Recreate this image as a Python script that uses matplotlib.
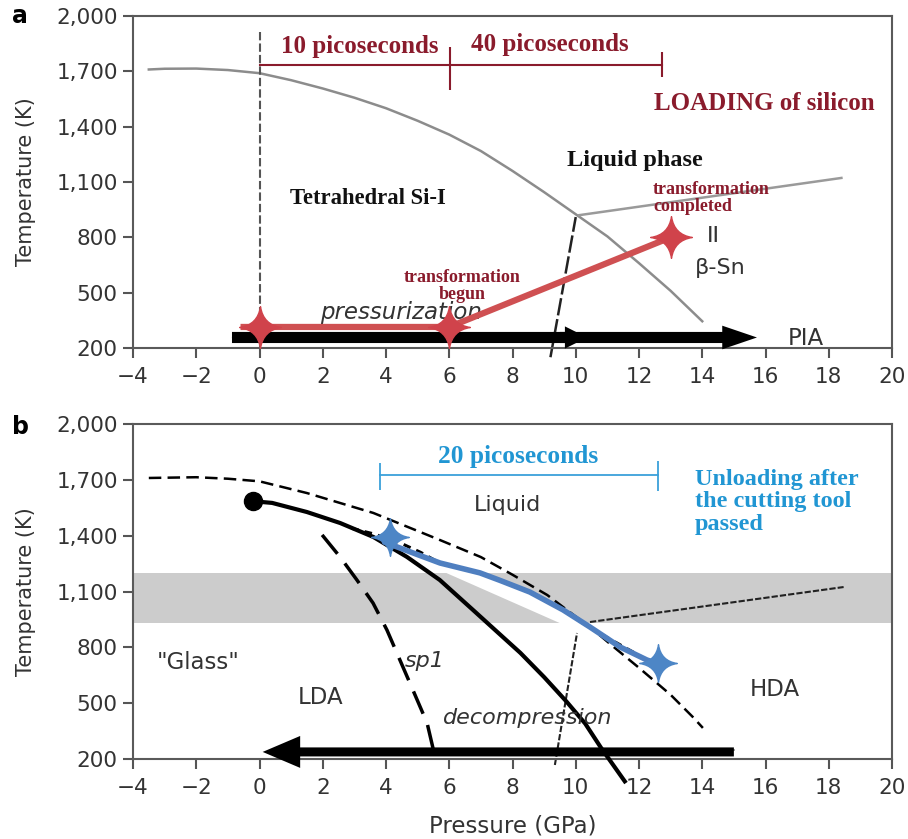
import numpy as np
import matplotlib.pyplot as plt
from matplotlib.path import Path

plt.rcParams['font.family'] = ['DejaVu Sans']

# melting line of crystalline Si (pressure in GPa, temperature in K)
melt_p = [-3.5, -3.0, -2.0, -1.0, 0.0, 1.0, 2.0, 3.0, 4.0, 5.0, 6.0, 7.0, 8.0, 9.0, 10.0, 11.0, 12.0, 13.0, 14.0]
melt_t = [1710, 1714, 1715, 1707, 1690, 1652, 1607, 1557, 1500, 1432, 1357, 1268, 1160, 1045, 925, 805, 660, 510, 345]
# same line as drawn in the lower panel
melt_b_p = [-3.5, -2.0, -1.0, 0.0, 1.5, 3.6, 5.7, 7.0, 8.0, 9.1, 10.0, 10.45, 11.2, 12.0, 13.0, 13.7, 14.02]
melt_b_t = [1710, 1714, 1706, 1692, 1629, 1522, 1377, 1285, 1190, 1081, 965, 909, 802, 690, 545, 426, 367]

# Si-I / beta-Sn boundary and the line from the triple point
si_boundary_p = [9.2, 10.0]
si_boundary_t = [150, 910]
triple_a_p = [10.1, 18.4]
triple_a_t = [920, 1122]

# loading path
load_p = [-0.6, 6.0, 13.0]
load_t = [314, 314, 800]
load_star_p = [0.0, 6.0, 13.0]
load_star_t = [314, 314, 800]

# picosecond time markers, panel a
ps_a_p = [0.0, 12.74]
ps_a_t = 1734
ps_a_ticks = [6.03, 12.74]
ps_a_tick_lo = [1599, 1669]
ps_a_tick_hi = [1832, 1805]
start_line_t = [1913, 200]

# panel b: liquid-liquid line, spinodals, unloading path
llt_p = [-0.2, 0.4, 1.5, 2.55, 3.6, 4.66, 5.7, 6.75, 7.6, 8.25, 9.0, 9.7, 10.3, 10.8, 11.55]
llt_t = [1585, 1576, 1527, 1468, 1393, 1286, 1162, 1001, 870, 770, 640, 510, 390, 260, 80]
sp1_p = [1.98, 2.55, 3.08, 3.59, 4.03, 4.44, 4.85, 5.3, 5.5, 5.56]
sp1_t = [1404, 1285, 1162, 1038, 893, 732, 571, 393, 248, 225]
sp2_p = [2.9, 3.6, 4.4, 5.1, 5.7, 7.0, 8.55, 9.6, 10.45, 11.0, 12.3]
sp2_t = [1440, 1410, 1365, 1310, 1253, 1198, 1095, 999, 905, 852, 728]
unload_p = [3.95, 5.0, 5.71, 6.97, 7.6, 8.55, 9.6, 10.45, 11.4, 12.25, 12.55]
unload_t = [1365, 1298, 1253, 1200, 1160, 1097, 1001, 909, 802, 732, 715]
unload_star_p = [4.13, 12.6]
unload_star_t = [1393, 716]
boundary_b_p = [9.34, 10.04]
boundary_b_t = [168, 877]
triple_b_p = [10.45, 18.47]
triple_b_t = [936, 1124]
glass_band = [930, 1200]
wedge_p = [5.9, 9.5, 10.3, 9.6, 8.55, 7.0]
wedge_t = [1200, 930, 930, 1001, 1097, 1200]
ps_b_p = [3.82, 12.6]
ps_b_t = 1726
ps_b_ticks = [3.82, 12.6]
ps_b_tick_lo = [1645, 1640]
ps_b_tick_hi = [1790, 1800]

x_ticks = list(range(-4, 21, 2))
y_ticks = [200, 500, 800, 1100, 1400, 1700, 2000]
y_labels = ['200', '500', '800', '1,100', '1,400', '1,700', '2,000']

DARK_RED = '#8A1B2C'
RED = '#CF5052'
BLUE_TXT = '#2196D3'
BLUE = '#4F7FC0'
GREY_TXT = '#333333'
SERIF = ['Liberation Serif', 'DejaVu Serif']


def sparkle(c=0.13):
    v = [(0, 1), (c, c), (1, 0), (c, -c), (0, -1), (-c, -c), (-1, 0), (-c, c), (0, 1), (0, 1)]
    codes = [Path.MOVETO] + [Path.CURVE3, Path.CURVE3] * 4 + [Path.CLOSEPOLY]
    return Path(v, codes)


STAR = sparkle()


def style_axes(ax):
    ax.set_xlim(-4, 20)
    ax.set_ylim(200, 2000)
    ax.set_xticks(x_ticks)
    ax.set_xticklabels(['\u2212%d' % -v if v < 0 else str(v) for v in x_ticks])
    ax.set_yticks(y_ticks)
    ax.set_yticklabels(y_labels)
    ax.tick_params(direction='out', length=7, width=1.5, color='#555555',
                   labelsize=15.5, labelcolor=GREY_TXT)
    ax.tick_params(axis='x', pad=7)
    ax.tick_params(axis='y', pad=4)
    for s in ax.spines.values():
        s.set_color('#5a5a5a')
        s.set_linewidth(1.5)
    ax.set_ylabel('Temperature (K)', fontsize=15, color=GREY_TXT)
    ax.yaxis.set_label_coords(-0.128, 0.5)


def bar_arrow(ax, p0, p1, t, tail, hw, hl):
    ax.annotate('', xy=(p1, t), xytext=(p0, t),
                arrowprops=dict(arrowstyle='simple,head_length=%g,head_width=%g,tail_width=%g' % (hl, hw, tail),
                                mutation_scale=1, color='black', lw=0, shrinkA=0, shrinkB=0))


fig = plt.figure(figsize=(9.08, 8.39), dpi=100)
ax_a = fig.add_axes([133 / 908, 1 - 348 / 839, 759 / 908, 332 / 839])
ax_b = fig.add_axes([133 / 908, 1 - 759 / 839, 759 / 908, 335 / 839])

# ---------------- panel a ----------------
ax = ax_a
style_axes(ax)
ax.plot(melt_p, melt_t, color='#8c8c8c', lw=1.8)
ax.plot(triple_a_p, triple_a_t, color='#9a9a9a', lw=1.8)
ax.plot(si_boundary_p, si_boundary_t, color='#222222', lw=1.8, ls=(0, (7, 1.5)), clip_on=False)
ax.plot([0, 0], start_line_t, color='#555555', lw=1.5, ls=(0, (4, 1.5)))

# time bracket
ax.plot(ps_a_p, [ps_a_t, ps_a_t], color=DARK_RED, lw=1.5)
ax.vlines(ps_a_ticks, ps_a_tick_lo, ps_a_tick_hi, color=DARK_RED, lw=1.5)

# pressurization arrows
bar_arrow(ax, -0.87, 10.36, 257, 8, 16, 16)
bar_arrow(ax, 9.5, 15.73, 257, 8, 17, 25)
ax.plot([-0.87, 7.0], [257, 257], color='#bbbbbb', lw=1.0)

# loading path
ax.plot(load_p, load_t, color=RED, lw=4.5, solid_capstyle='butt', zorder=4)
ax.plot(load_star_p, load_star_t, ls='none', marker=STAR, ms=30, color='#D0434B', zorder=5)

ax.text(3.18, 1832, '10 picoseconds', family=SERIF, weight='bold', fontsize=18, color=DARK_RED,
        ha='center', va='center')
ax.text(9.19, 1843, '40 picoseconds', family=SERIF, weight='bold', fontsize=18, color=DARK_RED,
        ha='center', va='center')
ax.text(15.95, 1528, 'LOADING of silicon', family=SERIF, weight='bold', fontsize=18, color=DARK_RED,
        ha='center', va='center')
ax.text(11.87, 1219, 'Liquid phase', family=SERIF, weight='bold', fontsize=17.5, color='#111111',
        ha='center', va='center')
ax.text(3.43, 1013, 'Tetrahedral Si-I', family=SERIF, weight='bold', fontsize=16.3, color='#111111',
        ha='center', va='center')
ax.text(12.44, 1013, 'transformation\ncompleted', family=SERIF, weight='bold', fontsize=13,
        color=DARK_RED, ha='left', va='center', linespacing=0.95)
ax.text(6.40, 536, 'transformation\nbegun', family=SERIF, weight='bold', fontsize=13,
        color=DARK_RED, ha='center', va='center', linespacing=0.95, zorder=6)
ax.text(4.47, 392, 'pressurization', style='italic', fontsize=16.5, color=GREY_TXT,
        ha='center', va='center', zorder=3)
ax.text(14.34, 807, 'II', fontsize=16, color=GREY_TXT, ha='center', va='center')
ax.text(14.56, 634, '\u03b2-Sn', fontsize=16, color=GREY_TXT, ha='center', va='center')
ax.text(17.28, 254, 'PIA', fontsize=16.5, color=GREY_TXT, ha='center', va='center')

# ---------------- panel b ----------------
ax = ax_b
style_axes(ax)
ax.set_xlabel('Pressure (GPa)', fontsize=16.5, color=GREY_TXT)
ax.xaxis.set_label_coords(0.5, -0.165)

ax.axhspan(glass_band[0], glass_band[1], color='#cccccc', lw=0, zorder=0)
ax.fill(wedge_p, wedge_t, color='white', lw=0, zorder=1)

ax.plot(melt_b_p, melt_b_t, color='black', lw=1.8, ls=(0, (5, 2.5)), zorder=2)
ax.plot(triple_b_p, triple_b_t, color='#222222', lw=1.5, ls=(0, (3, 1)), zorder=2)
ax.plot(boundary_b_p, boundary_b_t, color='#222222', lw=1.5, ls=(0, (3, 1)), zorder=2, clip_on=False)
ax.plot(sp1_p, sp1_t, color='black', lw=2.5, ls=(0, (7, 3.5)), zorder=2)
ax.plot(sp2_p, sp2_t, color='black', lw=2.2, ls=(0, (2.5, 2)), zorder=2)
ax.plot(llt_p, llt_t, color='black', lw=3.0, zorder=3, clip_on=False)
ax.plot(llt_p[:1], llt_t[:1], 'o', color='black', ms=13, zorder=3)

# decompression arrow
bar_arrow(ax, 15.0, 0.1, 238, 6.5, 23, 27)
ax.plot([0.9, 15.0], [251, 251], color='#777777', lw=1.2)

# unloading path
ax.plot(unload_p, unload_t, color=BLUE, lw=4.0, solid_capstyle='round', zorder=4)
ax.plot(unload_star_p, unload_star_t, ls='none', marker=STAR, ms=27, color='#4D86C6', zorder=5)

# time bracket
ax.plot(ps_b_p, [ps_b_t, ps_b_t], color='#3AA0DA', lw=1.3)
ax.vlines(ps_b_ticks, ps_b_tick_lo, ps_b_tick_hi, color='#3AA0DA', lw=1.3)

ax.text(8.17, 1823, '20 picoseconds', family=SERIF, weight='bold', fontsize=18.3, color=BLUE_TXT,
        ha='center', va='center')
ax.text(13.77, 1581, 'Unloading after\nthe cutting tool\npassed', family=SERIF, weight='bold',
        fontsize=17.5, color=BLUE_TXT, ha='left', va='center', linespacing=1.12)
ax.text(7.83, 1565, 'Liquid', fontsize=16, color=GREY_TXT, ha='center', va='center')
ax.text(-1.94, 721, '"Glass"', fontsize=16.5, color=GREY_TXT, ha='center', va='center')
ax.text(1.94, 528, 'LDA', fontsize=16.5, color=GREY_TXT, ha='center', va='center')
ax.text(5.23, 727, 'sp1', style='italic', fontsize=16, color=GREY_TXT, ha='center', va='center')
ax.text(8.49, 420, 'decompression', style='italic', fontsize=16, color=GREY_TXT,
        ha='center', va='center')
ax.text(16.3, 571, 'HDA', fontsize=16.5, color=GREY_TXT, ha='center', va='center')

fig.text(20 / 908, 1 - 16 / 839, 'a', fontsize=17, weight='bold', ha='center', va='center')
fig.text(20 / 908, 1 - 427 / 839, 'b', fontsize=17, weight='bold', ha='center', va='center')

fig.savefig('out.png', dpi=100, facecolor='white')
